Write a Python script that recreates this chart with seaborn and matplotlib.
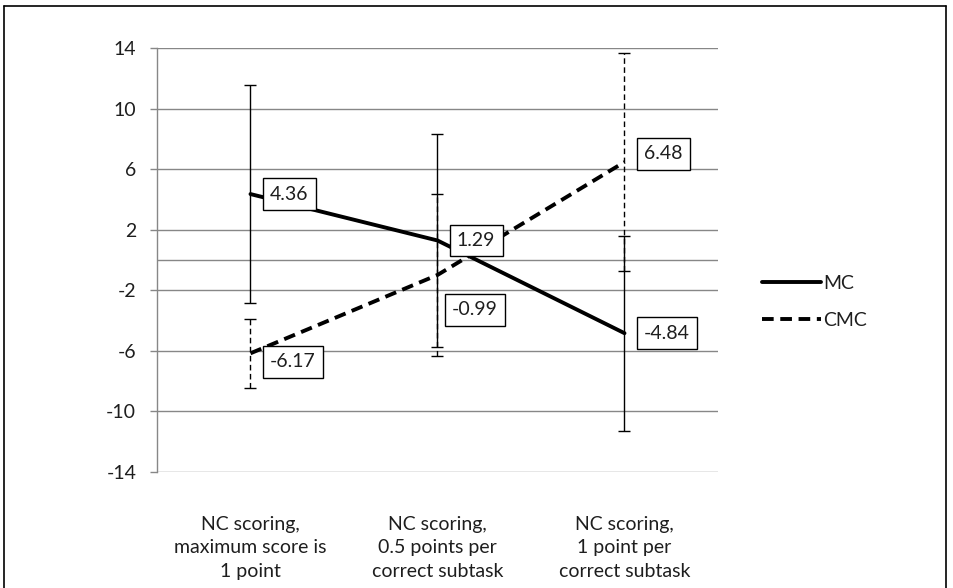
import matplotlib
matplotlib.use("Agg")
import matplotlib.pyplot as plt
import matplotlib.lines as mlines
import seaborn as sns
import pandas as pd

# Data
categories = ["NC scoring,\nmaximum score is\n1 point",
              "NC scoring,\n0.5 points per\ncorrect subtask",
              "NC scoring,\n1 point per\ncorrect subtask"]
mc_values = [4.36, 1.29, -4.84]
cmc_values = [-6.17, -0.99, 6.48]
mc_err = [7.2, 7.05, 6.45]
cmc_err = [2.3, 5.37, 7.2]
y_ticks = [-14, -10, -6, -2, 2, 6, 10, 14]

sns.set_theme(style="white")
plt.rcParams["font.family"] = ["Lato", "DejaVu Sans"]

df = pd.DataFrame({
    "pos": list(range(len(categories))) * 2,
    "value": mc_values + cmc_values,
    "series": ["MC"] * len(mc_values) + ["CMC"] * len(cmc_values),
})

fig = plt.figure(figsize=(9.54, 5.88), dpi=100)
ax = fig.add_axes([157 / 954, 1 - 471.7 / 588, (718 - 157) / 954, (471.7 - 48.3) / 588])

grid_c = "#878787"
txt_c = "#1e1e1e"
fs = 14
lw_main = 2.8
dash = (3.0, 1.7)
for t in y_ticks:
    ax.axhline(t, color=grid_c, lw=1.0, zorder=0)
ax.axhline(0, color=grid_c, lw=1.0, zorder=0)

sns.lineplot(data=df, x="pos", y="value", style="series",
             dashes={"MC": "", "CMC": dash}, color="black",
             linewidth=lw_main, legend=False, ax=ax, zorder=3)

# error bars
for vals, errs, ls in [(mc_values, mc_err, "-"), (cmc_values, cmc_err, (0, (4, 2.5)))]:
    eb = ax.errorbar(range(len(vals)), vals, yerr=errs, fmt="none",
                     ecolor="black", elinewidth=1.0, capsize=4, capthick=1.0, zorder=2)
    eb[2][0].set_linestyle(ls)

# data labels (offsets in points, label boxes right of points)
mc_offsets = [(14, 0), (14, 0), (14, 0)]
cmc_offsets = [(14, -6), (10.5, -25), (14, 6)]
for vals, offs in [(mc_values, mc_offsets), (cmc_values, cmc_offsets)]:
    for i, (v, o) in enumerate(zip(vals, offs)):
        ax.annotate(f"{v:.2f}", xy=(i, v), xytext=o, textcoords="offset points",
                    ha="left", va="center", fontsize=fs, color=txt_c, zorder=5,
                    bbox=dict(boxstyle="square,pad=0.38", fc="white", ec="black", lw=1.0))

ax.set_xlim(-0.5, len(categories) - 0.5)
ax.set_ylim(-14, 14)
ax.set_yticks(y_ticks)
ax.set_yticklabels([str(t) for t in y_ticks], fontsize=fs, color=txt_c)
ax.set_xticks(range(len(categories)))
ax.set_xticklabels(categories, fontsize=fs, color=txt_c, linespacing=1.45)
ax.tick_params(axis="x", length=0, pad=32)
ax.tick_params(axis="y", left=True, length=5, width=1, color=grid_c, pad=10)
ax.set_xlabel("")
ax.set_ylabel("")
for s in ["top", "right", "bottom"]:
    ax.spines[s].set_visible(False)
ax.spines["left"].set_color(grid_c)
ax.spines["left"].set_linewidth(1.0)
ax.set_facecolor("none")

handles = [mlines.Line2D([], [], color="black", lw=lw_main, ls="-", label="MC"),
           mlines.Line2D([], [], color="black", lw=lw_main, ls=(0, dash), label="CMC")]
fig.legend(handles=handles, loc="center left", bbox_to_anchor=(745 / 954, 1 - 302 / 588),
           frameon=False, fontsize=fs, handlelength=3.0, handletextpad=0.1,
           labelspacing=1.0, labelcolor=txt_c)

# outer frame
fig.add_artist(mlines.Line2D([4 / 954, 4 / 954], [0, 1 - 6 / 588], transform=fig.transFigure, color="black", lw=1.2))
fig.add_artist(mlines.Line2D([4 / 954, 946 / 954], [1 - 6 / 588, 1 - 6 / 588], transform=fig.transFigure, color="black", lw=1.2))
fig.add_artist(mlines.Line2D([946 / 954, 946 / 954], [0, 1 - 6 / 588], transform=fig.transFigure, color="black", lw=1.2))

fig.savefig("out.png", dpi=100)
